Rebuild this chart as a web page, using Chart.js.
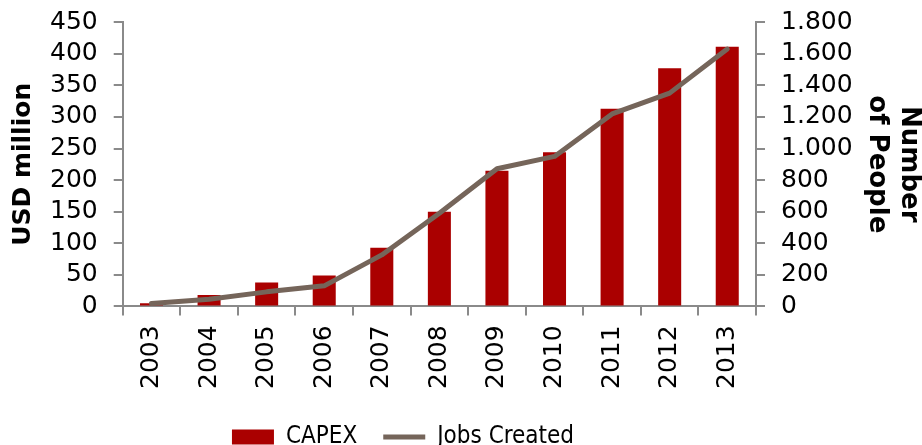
<!DOCTYPE html>
<html>
<head>
<meta charset="utf-8">
<script src="https://cdn.jsdelivr.net/npm/chart.js@4/dist/chart.umd.min.js"></script>
<style>
  html, body { margin: 0; padding: 0; background: #fff; overflow: hidden; }
  #wrap { width: 922px; height: 459px; }
</style>
</head>
<body>
<div id="wrap"><canvas id="capexChart" width="922" height="459"></canvas></div>
<script>
const years = ["2003", "2004", "2005", "2006", "2007", "2008", "2009", "2010", "2011", "2012", "2013"];
const capex = [5, 18, 38, 49, 93, 150, 215, 244, 313, 377, 411];      // USD million
const jobsCreated = [18, 45, 92, 130, 326, 590, 872, 950, 1219, 1351, 1630];

const capexAxis = { min: 0, max: 450, step: 50 };
const peopleAxis = { min: 0, max: 1800, step: 200 };

const RED = "#aa0000";
const BROWN = "#75655a";
const AXIS_GREY = "#8a8a8a";

Chart.defaults.font.family = "'DejaVu Sans', Verdana, sans-serif";
Chart.defaults.color = "#000";

// "1.800" style thousands separator
function dotThousands(v) {
  return String(v).replace(/\B(?=(\d{3})+(?!\d))/g, ".");
}

// nudge the legend left, under the plot instead of the canvas centre
const legendShift = {
  id: "legendShift",
  afterLayout(chart) {
    chart.legend.left -= 59;
    chart.legend.right -= 59;
  }
};

const axisGrid = {
  drawOnChartArea: false,
  color: AXIS_GREY,
  lineWidth: 2,
  tickLength: 9
};

// small line height keeps the top label from pushing the plot down
const valueFont = { size: 25, lineHeight: 0.5 };

new Chart(document.getElementById("capexChart"), {
  type: "bar",
  data: {
    labels: years,
    datasets: [
      {
        label: "CAPEX",
        data: capex,
        backgroundColor: RED,
        yAxisID: "y",
        order: 2,
        categoryPercentage: 1,
        barPercentage: 0.4,
        pointStyle: "rect"
      },
      {
        type: "line",
        label: "Jobs Created",
        data: jobsCreated,
        borderColor: BROWN,
        backgroundColor: BROWN,
        borderWidth: 5,
        borderCapStyle: "round",
        borderJoinStyle: "round",
        tension: 0,
        pointRadius: 0,
        pointStyle: "line",
        yAxisID: "y1",
        order: 1
      }
    ]
  },
  options: {
    responsive: false,
    animation: false,
    layout: { padding: { top: 0, right: -2, left: 0, bottom: 0 } },
    plugins: {
      tooltip: { enabled: false },
      legend: {
        position: "bottom",
        labels: {
          usePointStyle: true,
          pointStyleWidth: 42,
          boxHeight: 15,
          padding: 26,
          color: "#000",
          sort: (a, b) => a.datasetIndex - b.datasetIndex,
          font: { family: "'DejaVu Sans Condensed', 'DejaVu Sans', sans-serif", size: 24 }
        }
      }
    },
    scales: {
      x: {
        grid: { ...axisGrid, offset: true },
        border: { color: AXIS_GREY, width: 2 },
        ticks: {
          minRotation: 90,
          maxRotation: 90,
          padding: 10,
          font: { size: 25 }
        }
      },
      y: {
        position: "left",
        min: capexAxis.min,
        max: capexAxis.max,
        grid: axisGrid,
        border: { color: AXIS_GREY, width: 2 },
        ticks: { stepSize: capexAxis.step, autoSkip: false, padding: 16, font: valueFont },
        title: {
          display: true,
          text: "USD million",
          font: { size: 25, weight: "bold" },
          padding: { top: 8, bottom: -4 }
        }
      },
      y1: {
        position: "right",
        min: peopleAxis.min,
        max: peopleAxis.max,
        grid: axisGrid,
        border: { color: AXIS_GREY, width: 2 },
        ticks: {
          stepSize: peopleAxis.step,
          autoSkip: false,
          padding: 16,
          font: valueFont,
          callback: (v) => dotThousands(v)
        },
        title: {
          display: true,
          text: ["Number", "of People"],
          font: { size: 26, weight: "bold" },
          padding: { top: 0, bottom: -7 }
        }
      }
    }
  },
  plugins: [legendShift]
});
</script>
</body>
</html>
